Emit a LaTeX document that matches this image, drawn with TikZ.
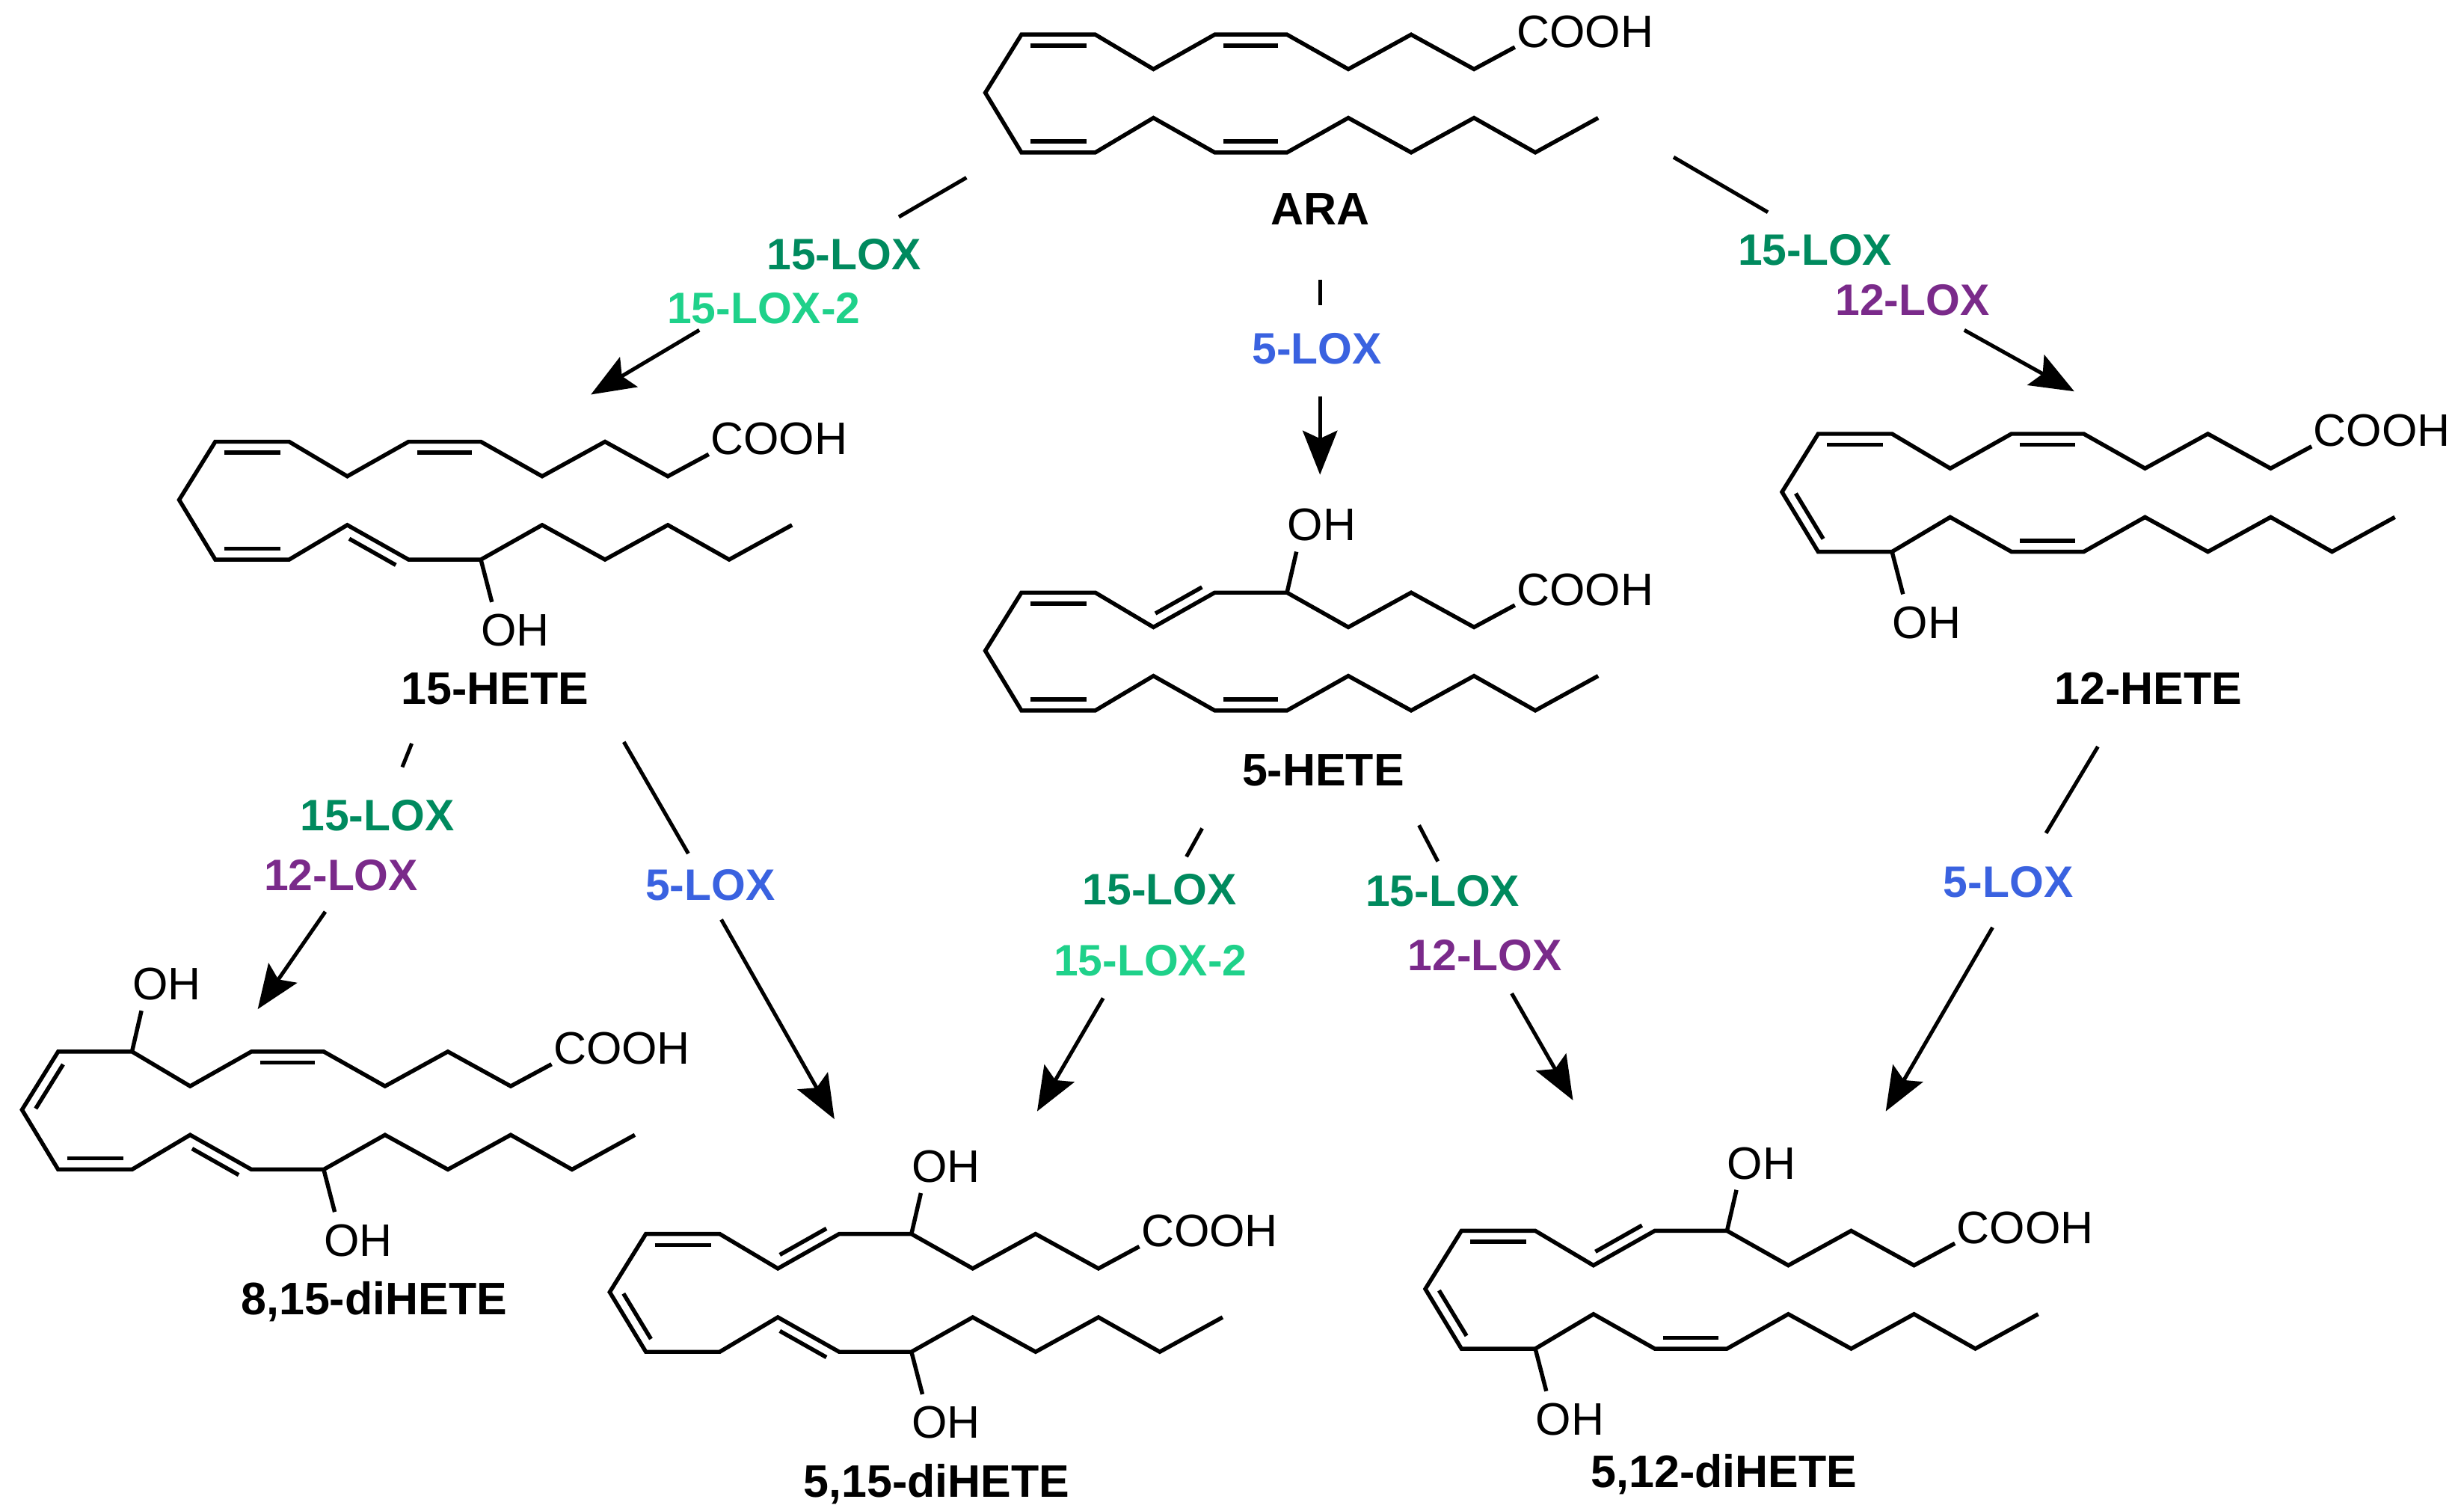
\documentclass[tikz,border=0pt]{standalone}
\usepackage{fontspec}
\setmainfont{Liberation Sans}
\usetikzlibrary{calc,arrows.meta}
\definecolor{loxf}{HTML}{008A5E}
\definecolor{loxfb}{HTML}{1FD18A}
\definecolor{loxt}{HTML}{7A2A8A}
\definecolor{loxv}{HTML}{3A62E0}
\tikzset{
 bond/.style={line width=2.6pt,line join=miter},
 atom/.style={font=\fontsize{29}{29}\selectfont,inner sep=0pt},
 cname/.style={font=\fontsize{29}{29}\selectfont\bfseries,inner sep=0pt},
 enz/.style={font=\fontsize{28}{28}\selectfont\bfseries,inner sep=0pt},
 conn/.style={line width=2.4pt},
 arr/.style={line width=2.4pt,-{Stealth[length=28pt,width=22pt,inset=5pt]}}
}
\newcommand\skel{%
 \coordinate (T0) at (0,0); \coordinate (T1) at (47,0); \coordinate (T2) at (84,22);
 \coordinate (T3) at (123,0); \coordinate (T4) at (169,0); \coordinate (T5) at (208,22);
 \coordinate (T6) at (248,0); \coordinate (T7) at (288,22); \coordinate (T8) at (314,8);
 \coordinate (L) at (-23,37);
 \coordinate (B0) at (0,75); \coordinate (B1) at (47,75); \coordinate (B2) at (84,53);
 \coordinate (B3) at (123,75); \coordinate (B4) at (169,75); \coordinate (B5) at (208,53);
 \coordinate (B6) at (248,75); \coordinate (B7) at (288,53); \coordinate (B8) at (327,75);
 \coordinate (B9) at (367,53);
 \draw[bond] (T8)--(T7)--(T6)--(T5)--(T4)--(T3)--(T2)--(T1)--(T0)--(L)--(B0)--(B1)--(B2)--(B3)--(B4)--(B5)--(B6)--(B7)--(B8)--(B9);
 \node[atom,anchor=west] at ($(T8)+(1,-10)$) {COOH};}
\newcommand\dbL[2]{\draw[bond] ($(#1)!0.12!(#2)!7pt!90:(#2)$) -- ($(#2)!0.12!(#1)!7pt!-90:(#1)$);}
\newcommand\dbR[2]{\draw[bond] ($(#1)!0.12!(#2)!7pt!-90:(#2)$) -- ($(#2)!0.12!(#1)!7pt!90:(#1)$);}
\newcommand\ohup[1]{\draw[bond] (#1) -- ++(6,-26); \node[atom] at ($(#1)+(22,-43)$) {OH};}
\newcommand\ohdn[1]{\draw[bond] (#1) -- ++(7,27); \node[atom] at ($(#1)+(22,45)$) {OH};}
\begin{document}
\begin{tikzpicture}[x=1pt,y=-1pt]
\useasboundingbox (0,0) rectangle (1568,961);
% ARA
\begin{scope}[shift={(650,22)}]
 \skel \dbR{T0}{T1} \dbR{T3}{T4} \dbL{B0}{B1} \dbL{B3}{B4}
\end{scope}
% 15-HETE
\begin{scope}[shift={(137,281)}]
 \skel \dbR{T0}{T1} \dbR{T3}{T4} \dbL{B0}{B1} \dbR{B2}{B3} \ohdn{B4}
\end{scope}
% 5-HETE
\begin{scope}[shift={(650,377)}]
 \skel \dbR{T0}{T1} \dbL{T2}{T3} \ohup{T4} \dbL{B0}{B1} \dbL{B3}{B4}
\end{scope}
% 12-HETE
\begin{scope}[shift={(1157,276)}]
 \skel \dbR{T0}{T1} \dbR{T3}{T4} \dbL{L}{B0} \ohdn{B1} \dbL{B3}{B4}
\end{scope}
% 8,15-diHETE
\begin{scope}[shift={(37,669)}]
 \skel \dbL{T0}{L} \ohup{T1} \dbR{T3}{T4} \dbL{B0}{B1} \dbR{B2}{B3} \ohdn{B4}
\end{scope}
% 5,15-diHETE
\begin{scope}[shift={(411,785)}]
 \skel \dbR{T0}{T1} \dbL{T2}{T3} \ohup{T4} \dbL{L}{B0} \dbR{B2}{B3} \ohdn{B4}
\end{scope}
% 5,12-diHETE
\begin{scope}[shift={(930,783)}]
 \skel \dbR{T0}{T1} \dbL{T2}{T3} \ohup{T4} \dbL{L}{B0} \ohdn{B1} \dbL{B3}{B4}
\end{scope}
% compound names
\node[cname] (ara) at (840,133) {ARA};
\node[cname] (h15) at (315,438) {15-HETE};
\node[cname] (h5) at (842,490) {5-HETE};
\node[cname] (h12) at (1367,438) {12-HETE};
\node[cname] (d815) at (238,828) {8,15-diHETE};
\node[cname] (d515) at (596,944) {5,15-diHETE};
\node[cname] (d512) at (1097,938) {5,12-diHETE};
% enzyme labels
\node[enz,text=loxf] (e1a) at (537,162) {15-LOX};
\node[enz,text=loxfb] (e1b) at (486,196) {15-LOX-2};
\node[enz,text=loxv] (e2) at (838,222) {5-LOX};
\node[enz,text=loxf] (e3a) at (1155,159) {15-LOX};
\node[enz,text=loxt] (e3b) at (1217,191) {12-LOX};
\node[enz,text=loxf] (e4a) at (240,519) {15-LOX};
\node[enz,text=loxt] (e4b) at (217,557) {12-LOX};
\node[enz,text=loxv] (e5) at (452,563) {5-LOX};
\node[enz,text=loxf] (e6a) at (738,566) {15-LOX};
\node[enz,text=loxfb] (e6b) at (732,611) {15-LOX-2};
\node[enz,text=loxf] (e7a) at (918,567) {15-LOX};
\node[enz,text=loxt] (e7b) at (945,608) {12-LOX};
\node[enz,text=loxv] (e8) at (1278,561) {5-LOX};
% connectors
\coordinate (a1s) at (615,113); \coordinate (a1m) at (572,138);
\coordinate (a1n) at (445,210); \coordinate (a1e) at (376,251);
\draw[conn] (a1s) -- (a1m); \draw[arr] (a1n) -- (a1e);
\coordinate (a2s) at (840,178); \coordinate (a2m) at (840,194);
\coordinate (a2n) at (840,252); \coordinate (a2e) at (840,302);
\draw[conn] (a2s) -- (a2m); \draw[arr] (a2n) -- (a2e);
\coordinate (a3s) at (1065,100); \coordinate (a3m) at (1125,135);
\coordinate (a3n) at (1250,210); \coordinate (a3e) at (1320,249);
\draw[conn] (a3s) -- (a3m); \draw[arr] (a3n) -- (a3e);
\coordinate (a4s) at (262,473); \coordinate (a4m) at (256,488);
\coordinate (a4n) at (207,580); \coordinate (a4e) at (164,642);
\draw[conn] (a4s) -- (a4m); \draw[arr] (a4n) -- (a4e);
\coordinate (a5s) at (397,472); \coordinate (a5m) at (438,543);
\coordinate (a5n) at (459,585); \coordinate (a5e) at (531,712);
\draw[conn] (a5s) -- (a5m); \draw[arr] (a5n) -- (a5e);
\coordinate (a6s) at (765,527); \coordinate (a6m) at (755,545);
\coordinate (a6n) at (702,635); \coordinate (a6e) at (660,707);
\draw[conn] (a6s) -- (a6m); \draw[arr] (a6n) -- (a6e);
\coordinate (a7s) at (903,525); \coordinate (a7m) at (915,548);
\coordinate (a7n) at (962,632); \coordinate (a7e) at (1001,700);
\draw[conn] (a7s) -- (a7m); \draw[arr] (a7n) -- (a7e);
\coordinate (a8s) at (1335,475); \coordinate (a8m) at (1302,530);
\coordinate (a8n) at (1268,590); \coordinate (a8e) at (1200,707);
\draw[conn] (a8s) -- (a8m); \draw[arr] (a8n) -- (a8e);
\end{tikzpicture}
\end{document}
